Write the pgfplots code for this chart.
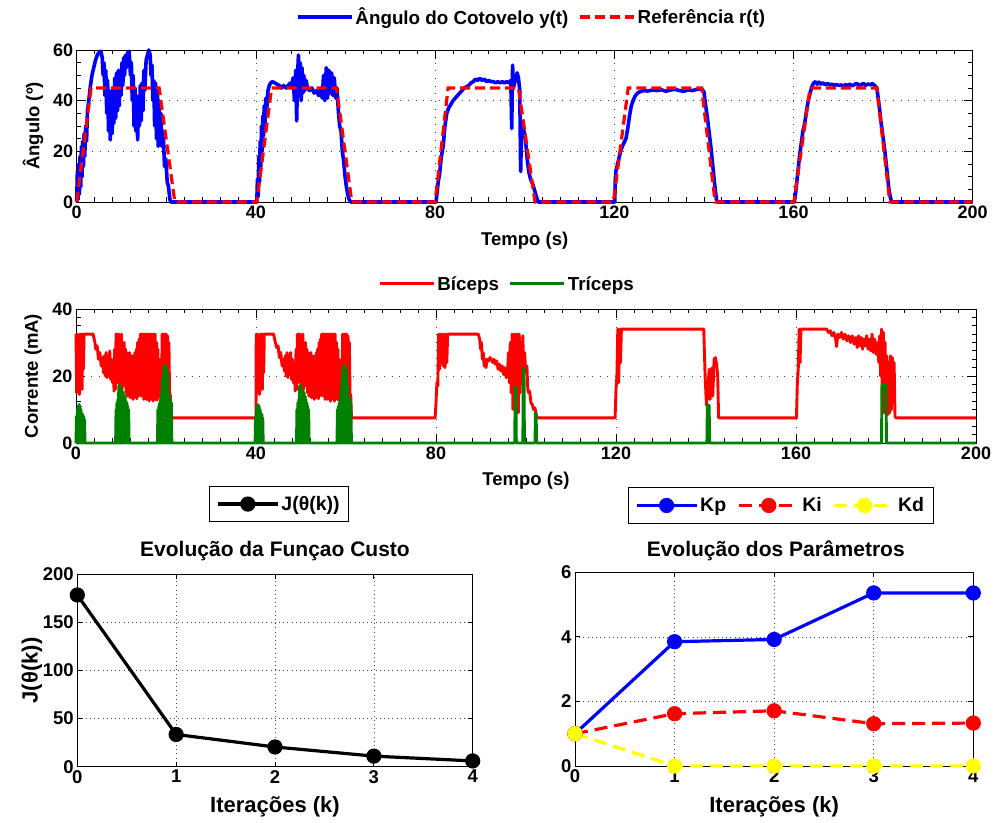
\documentclass[border=0pt]{standalone}
\usepackage{pgfplots}
\pgfplotsset{compat=1.18}
\usepackage{fontspec}
\setmainfont{Liberation Sans}
\definecolor{mblue}{rgb}{0,0,1}
\definecolor{mred}{rgb}{1,0,0}
\definecolor{mgreen}{rgb}{0,0.5,0}
\definecolor{myellow}{rgb}{1,1,0}
\pgfplotsset{
 mat/.style={
  scale only axis, clip=false,
  axis line style={black, line width=0.8pt},
  tick style={black, line width=0.8pt},
  major tick length=9pt, minor tick length=4.5pt, tick align=inside,
  grid=major,
  major grid style={black!75, line width=0.7pt, dash pattern=on 0.7pt off 7pt},
  /pgf/number format/assume math mode=true,
  tick label style={font=\fontsize{18}{18}\selectfont\bfseries},
  label style={font=\fontsize{18.5}{20}\selectfont\bfseries},
  legend style={font=\fontsize{18.8}{20}\selectfont\bfseries, draw=none, fill=white, anchor=center,
    /tikz/every even column/.append style={column sep=8pt}},
  legend image code/.code={\draw[##1] (0pt,0pt) -- (54pt,0pt);},
 },
 matb/.style={
  mat, major tick length=5pt,
  major grid style={black!75, line width=0.7pt, dash pattern=on 0.7pt off 3.5pt},
  tick label style={font=\fontsize{18.5}{18}\selectfont\bfseries},
  label style={font=\fontsize{22}{24}\selectfont\bfseries},
  title style={font=\fontsize{21}{24}\selectfont\bfseries},
  legend style={font=\fontsize{19.5}{20}\selectfont\bfseries, draw=black, line width=0.8pt,
    inner xsep=7pt, inner ysep=8pt, /tikz/every even column/.append style={column sep=9pt}},
  legend image code/.code={\draw[mark repeat=2,mark phase=2,##1] plot coordinates {(0pt,0pt) (30pt,0pt) (60pt,0pt)};},
  xmin=0, xmax=4, xtick={0,1,2,3,4},
 },
}
\begin{document}
\begin{tikzpicture}[x=1pt,y=1pt]
\useasboundingbox (0pt,0pt) rectangle (995pt,822pt);
% ---------------- top: angle
\begin{axis}[mat, at={(76.7pt,620pt)}, anchor=south west, width=896pt, height=152pt,
  xmin=0, xmax=200, ymin=0, ymax=60, xtick={0,40,80,120,160,200}, ytick={0,20,40,60},
  minor x tick num=9, minor y tick num=3,
  xlabel={Tempo (s)}, ylabel={Ângulo (º)},
  xlabel style={at={(axis description cs:0.5,-0.257)}, anchor=center},
  ylabel style={at={(axis description cs:-0.0488,0.5)}, anchor=center},
  legend columns=2, legend style={at={(0.5076,1.217)}}]
\addplot[mblue, line width=3.6pt, line join=round] coordinates {
(0,0) (0.15,12) (0.3,1) (0.45,15) (0.6,3) (0.75,18) (0.9,6) (1.05,22) (1.2,10) (1.35,24) (1.5,14) (1.65,27) (1.8,18) (2.0,30) (2.2,24) (2.4,36) (2.7,40) (3.0,45) (3.4,50) (3.8,53) (4.2,56) (4.6,58) (5.0,59) (5.4,59.5) (5.7,57) (5.9,50) (6.1,55) (6.3,42) (6.5,52) (6.7,35) (6.9,48) (7.1,28) (7.3,44) (7.5,24.5) (7.7,40) (7.9,27) (8.1,45) (8.3,31) (8.5,49) (8.7,33) (8.9,51) (9.1,36) (9.3,52) (9.5,38) (9.7,51) (9.9,42) (10.1,55) (10.3,46) (10.5,57) (10.7,50) (10.9,58) (11.1,53) (11.4,59) (11.6,59.5) (11.8,57) (12.0,50) (12.2,55) (12.4,40) (12.6,50) (12.8,30) (13.0,45) (13.2,28) (13.4,42) (13.6,24.5) (13.8,38) (14.0,30) (14.2,46) (14.4,32) (14.6,47) (14.8,36) (15.0,52) (15.2,44) (15.5,56) (15.8,58) (16.1,60) (16.4,58) (16.6,50) (16.8,54) (17.0,40) (17.2,48) (17.4,30) (17.6,47) (17.8,25) (18.0,45) (18.2,22) (18.4,40) (18.6,24) (18.8,35) (19.0,22) (19.3,28) (19.6,14) (19.9,17) (20.2,8) (20.5,6) (20.8,1) (21.0,0) (40.0,0)
(40.2,0) (40.35,9) (40.5,2) (40.65,18) (40.8,8) (40.95,24) (41.1,14) (41.25,30) (41.4,20) (41.55,34) (41.7,26) (41.85,38) (42.0,30) (42.2,41) (42.4,36) (42.7,44) (43.0,46) (43.3,47) (43.7,47.5) (44.2,47) (44.7,46.5) (45.2,46) (45.7,45) (46.2,46) (46.7,45) (47.2,46) (47.7,47) (48.0,45) (48.3,49) (48.6,40) (48.9,52) (49.1,32) (49.3,50) (49.5,58) (49.7,42) (49.9,55) (50.1,40) (50.3,53) (50.5,43) (50.7,50) (50.9,44) (51.2,48) (51.5,45) (52.0,44) (52.5,45) (53.0,43) (53.5,44) (54.0,42) (54.5,45) (54.8,41) (55.1,50) (55.4,40) (55.7,53) (56.0,41) (56.3,52) (56.6,43) (56.9,51) (57.2,42) (57.5,49) (57.8,41) (58.1,45) (58.4,36) (58.7,30) (59.0,28) (59.3,20) (59.6,16) (59.9,10) (60.2,6) (60.5,3) (60.8,1) (61.2,0) (80.0,0)
(80.2,0) (80.4,3) (80.7,8) (81.0,11) (81.4,18) (81.8,22) (82.2,30) (82.6,35) (83.0,37) (83.5,38.5) (84.0,40) (84.5,41) (85.0,42) (85.5,43) (86.0,44) (86.5,45) (87.0,45.5) (87.5,46) (88.0,47) (88.5,47.5) (89.0,48.5) (89.5,48) (90.0,48.8) (90.5,48) (91.0,48.5) (91.5,47.5) (92.0,48) (92.5,47.5) (93.0,47.5) (93.5,47) (94.0,47.5) (94.5,47) (95.0,47.5) (95.5,47) (96.0,47.5) (96.5,47) (96.9,48) (97.1,29) (97.3,54) (97.5,45) (97.7,47) (98.0,48) (98.3,51) (98.6,49) (98.9,44) (99.1,12) (99.3,30) (99.7,29) (100.1,26) (100.5,18) (100.9,12) (101.3,9) (101.8,7) (102.3,4) (102.8,1) (103.0,0) (120.0,0)
(120.1,0) (120.2,8) (120.35,12) (120.6,14) (121.0,17) (121.4,20) (121.8,22) (122.2,23.5) (122.6,25) (123.0,29) (123.4,34) (123.8,38) (124.2,40) (124.7,42) (125.2,43) (125.7,43.5) (126.5,44) (127.5,43.8) (128.5,44.2) (129.5,44) (130.5,44.3) (131.5,43.7) (132.5,44.2) (133.5,44.5) (134.5,44) (135.5,43.7) (136.5,44.2) (137.5,44) (138.5,44.5) (139.5,44.6) (140.0,43.5) (140.4,38) (140.8,33) (141.2,27) (141.6,21) (142.0,14) (142.4,7) (142.8,1) (143.0,0) (160.0,0)
(160.2,0) (160.5,4) (160.8,9) (161.1,14) (161.4,19) (161.8,24) (162.1,28) (162.5,31) (162.9,36) (163.3,40) (163.7,43) (164.1,45.5) (164.5,47) (164.9,47.5) (165.3,46.5) (165.7,47.3) (166.1,46.5) (166.6,47) (167.1,46.3) (167.6,46.8) (168.1,46.2) (168.6,46.5) (169.1,46) (169.6,46.4) (170.1,46) (170.6,46.2) (171.1,45.8) (171.6,46.3) (172.1,46) (172.6,46.5) (173.1,45.8) (173.6,46.4) (174.1,46.8) (174.6,46) (175.1,46.3) (175.6,46.8) (176.1,46) (176.6,46.6) (177.1,46.3) (177.6,46.7) (178.1,46) (178.6,45) (178.9,41) (179.2,37) (179.5,32) (179.8,28) (180.1,24) (180.4,20) (180.7,15) (181.0,10) (181.3,5) (181.6,2) (181.9,0) (200,0)
};
\addplot[mred, line width=3.2pt, dash pattern=on 10pt off 5pt] coordinates {
(0,0) (3.2,45) (18.4,45) (21.9,0) (40.2,0) (43.5,45) (58.0,45) (61.4,0) (80.0,0) (82.9,45) (98.6,45) (102.3,0) (119.8,0) (123.1,45) (139.5,45) (142.5,0) (160.1,0) (163.7,45) (178.6,45) (181.5,0) (200,0)
};
\legend{Ângulo do Cotovelo y(t), Referência r(t)}
\end{axis}
% ---------------- middle: current
\begin{axis}[mat, at={(76.0pt,379pt)}, anchor=south west, width=900pt, height=134pt,
  xmin=0, xmax=200, ymin=0, ymax=40, xtick={0,40,80,120,160,200}, ytick={0,20,40},
  minor x tick num=9, minor y tick num=7,
  xlabel={Tempo (s)}, ylabel={Corrente (mA)},
  xlabel style={at={(axis description cs:0.5,-0.284)}, anchor=center},
  ylabel style={at={(axis description cs:-0.0478,0.5)}, anchor=center},
  legend columns=2, legend style={at={(0.479,1.187)}}]
\addplot[mred, line width=2.9pt, line join=round] coordinates {
(0,32.5) (0.15,15) (0.3,32.5) (0.45,18) (0.6,32) (0.75,14.5) (0.9,32.5) (1.05,20) (1.2,32.5) (1.35,16) (1.5,32.5) (1.65,22) (1.8,32.5) (1.9,32.5) (3.8,32.5) (4.2,30) (4.4,28) (4.7,29) (5.0,25) (5.3,27) (5.6,23) (5.9,25.5) (6.1,21) (6.3,26) (6.5,20) (6.7,27) (6.9,19.5) (7.1,26) (7.3,20) (7.5,27.5) (7.7,19) (7.9,25) (8.1,18) (8.3,24) (8.45,15.5) (8.6,28) (8.75,16) (8.9,32.5) (9.05,18) (9.2,32.5) (9.35,20) (9.5,32.5) (9.65,17) (9.8,31) (9.95,19) (10.1,32.5) (10.25,16) (10.4,29) (10.55,18) (10.7,30) (10.85,17) (11.0,28) (11.15,15) (11.3,27) (11.45,14) (11.6,26) (11.75,14) (11.9,27) (12.05,13.5) (12.2,25) (12.35,14) (12.5,26) (12.65,13) (12.8,24) (12.95,13.5) (13.1,27) (13.25,14) (13.4,28) (13.55,13.2) (13.7,30) (13.85,14) (14.0,31) (14.15,15) (14.3,32.5) (14.45,14) (14.6,32.5) (14.75,16) (14.9,32.5) (15.05,13) (15.2,32.5) (15.35,15) (15.5,32.5) (15.65,13) (15.8,32.5) (15.95,14) (16.1,32.5) (16.25,12.5) (16.4,32.5) (16.55,13.5) (16.7,32.5) (16.85,13) (17.0,32.5) (17.15,12.5) (17.3,32.5) (17.45,14) (17.6,32.5) (17.75,13) (17.9,30) (18.05,12.8) (18.2,28) (18.35,13.5) (18.5,25) (18.65,14) (18.8,20) (19.0,15) (19.15,32.5) (19.3,17) (19.45,32.5) (19.6,16) (19.75,32.5) (19.9,15) (20.05,32.5) (20.2,14) (20.35,32) (20.5,14.5) (20.65,30) (20.8,14) (20.95,14.5) (21.1,7.5) (40.0,7.5)
(40.05,32.5) (40.2,15) (40.35,32.5) (40.5,17) (40.65,32) (40.8,14.5) (40.95,32.5) (41.1,19) (41.25,32.5) (41.4,16) (41.55,32.5) (41.7,21) (41.85,32.5) (42.0,32.5) (43.9,32.5) (44.3,30) (44.6,28.5) (44.9,29) (45.2,25.5) (45.5,27) (45.8,23) (46.1,25) (46.3,21.5) (46.5,26) (46.7,20) (46.9,27) (47.1,19.5) (47.3,26) (47.5,20.5) (47.7,27) (47.9,19) (48.1,25) (48.3,18) (48.5,24) (48.7,15.5) (48.9,28) (49.05,16) (49.2,32.5) (49.35,18) (49.5,32.5) (49.65,20) (49.8,32.5) (49.95,17) (50.1,31) (50.25,19) (50.4,32.5) (50.55,16) (50.7,29) (50.85,18) (51.0,30) (51.15,17) (51.3,28) (51.45,15) (51.6,27) (51.75,14) (51.9,26) (52.05,14) (52.2,27) (52.35,13.5) (52.5,25) (52.65,14) (52.8,26) (52.95,13) (53.1,24) (53.25,13.5) (53.4,27) (53.55,14) (53.7,28) (53.85,13.2) (54.0,30) (54.15,14) (54.3,31) (54.45,15) (54.6,32.5) (54.75,14) (54.9,32.5) (55.05,16) (55.2,32.5) (55.35,13) (55.5,32.5) (55.65,15) (55.8,32.5) (55.95,13) (56.1,32.5) (56.25,14) (56.4,32.5) (56.55,12.5) (56.7,32.5) (56.85,13.5) (57.0,32.5) (57.15,13) (57.3,32.5) (57.45,12.5) (57.6,32.5) (57.75,14) (57.9,30) (58.05,13) (58.2,28) (58.35,12.8) (58.5,25) (58.65,13.5) (58.8,21) (58.95,14) (59.1,15) (59.25,32.5) (59.4,17) (59.55,32.5) (59.7,16) (59.85,32.5) (60.0,15) (60.15,32.5) (60.3,14) (60.45,32) (60.6,14.5) (60.75,30) (60.9,14) (61.05,14.5) (61.2,7.5) (79.8,7.5)
(80.0,12) (80.2,18) (80.4,17) (80.6,32.5) (80.8,22) (81.0,32.5) (81.2,24) (81.4,32.5) (81.6,23) (81.8,32.5) (82.0,22.5) (82.2,32.5) (82.4,24) (82.6,32.5) (89.4,32.5) (89.7,31) (89.9,28) (90.1,30) (90.3,25) (90.5,27) (90.7,23) (90.9,25) (91.1,22.5) (91.4,25) (91.7,24.5) (92.0,25.5) (92.3,25) (92.6,24) (92.9,25) (93.2,23.5) (93.5,24.5) (93.8,22) (94.1,23.5) (94.4,21.5) (94.7,23) (95.0,20.5) (95.3,22.5) (95.6,19.5) (95.9,21) (96.1,27) (96.3,18) (96.5,30) (96.7,15) (96.9,32.5) (97.1,10) (97.3,32.5) (97.5,14) (97.7,32.5) (97.9,12) (98.1,32.5) (98.3,9) (98.5,32.5) (98.7,15) (98.9,30) (99.1,18) (99.3,32) (99.5,20) (99.7,27) (99.9,22) (100.2,23) (100.4,16) (100.6,15) (100.8,15.5) (101.1,12) (101.4,11.5) (101.7,10) (102.0,10.5) (102.3,8) (102.6,7.5) (119.8,7.5)
(120.0,16) (120.2,20) (120.4,34) (120.6,18) (120.8,34) (121.0,24) (121.2,34) (139.5,34) (139.8,20) (140.1,11.3) (140.4,16) (140.7,22) (140.9,13) (141.1,20) (141.3,22.4) (141.5,14) (141.8,25) (142.1,25.5) (142.4,23) (142.6,20) (142.8,7.5) (160.1,7.5)
(160.3,18) (160.5,22) (160.7,34) (160.9,24) (161.1,34) (166.8,34) (167.2,33) (167.6,33.5) (168.0,32) (168.4,33) (168.8,31) (169.0,28.8) (169.3,32.5) (169.7,31.5) (170.1,33) (170.5,31) (170.9,32.5) (171.3,30.5) (171.7,32) (172.1,30) (172.5,32) (172.9,29.5) (173.3,31.5) (173.6,28.5) (173.9,32) (174.2,29) (174.5,31.5) (174.8,28) (175.1,31) (175.4,29) (175.7,32) (176.0,28) (176.3,31) (176.6,27.5) (176.9,32.5) (177.2,27) (177.5,31) (177.8,26.5) (178.1,30) (178.4,24) (178.6,32) (178.8,20) (179.0,34) (179.2,12) (179.4,33) (179.6,9) (179.8,30) (180.0,10) (180.2,26) (180.4,8.5) (180.6,24) (180.8,9) (181.0,26) (181.2,10) (181.4,25.5) (181.6,12) (181.8,24) (182.0,8) (182.2,7.5) (200,7.5)
};
\addplot[mgreen, line width=2.9pt, line join=round] coordinates {
(0,0) (0.1,8) (0.2,0) (0.3,10) (0.4,0) (0.5,11) (0.6,0) (0.7,11.5) (0.8,0) (0.9,11) (1.0,0) (1.1,10) (1.2,0) (1.3,9) (1.4,0) (1.5,8.5) (1.6,0) (1.7,8) (1.8,0) (1.9,7) (2.0,0)
(8.8,0) (8.9,10) (9.0,0) (9.1,12) (9.2,0) (9.3,13) (9.4,0) (9.5,17) (9.6,0) (9.7,17.3) (9.8,0) (9.9,16.5) (10.0,0) (10.1,15) (10.2,0) (10.3,15.5) (10.4,0) (10.5,15.2) (10.6,0) (10.7,14.5) (10.8,0) (10.9,14) (11.0,0) (11.1,12.5) (11.2,0) (11.3,12) (11.4,0) (11.5,11) (11.6,0) (11.7,10) (11.8,0)
(18.1,0) (18.2,10) (18.3,0) (18.4,11) (18.5,0) (18.6,12) (18.7,0) (18.8,13) (18.9,0) (19.0,15) (19.1,0) (19.2,19) (19.3,0) (19.4,21) (19.5,0) (19.6,23) (19.7,0) (19.8,22.8) (19.9,0) (20.0,23) (20.1,0) (20.2,22) (20.3,0) (20.4,20) (20.5,0) (20.6,15) (20.7,0) (20.8,14) (20.9,0) (21.0,13) (21.1,0) (21.2,12) (21.3,0) (39.8,0)
(39.9,8) (40.0,0) (40.1,10) (40.2,0) (40.3,11) (40.4,0) (40.5,11.5) (40.6,0) (40.7,11) (40.8,0) (40.9,10) (41.0,0) (41.1,9) (41.2,0) (41.3,8.5) (41.4,0) (41.5,7.5) (41.6,0)
(49.0,0) (49.1,10) (49.2,0) (49.3,12) (49.4,0) (49.5,13) (49.6,0) (49.7,17) (49.8,0) (49.9,17.3) (50.0,0) (50.1,16) (50.2,0) (50.3,14) (50.4,0) (50.5,15.5) (50.6,0) (50.7,15) (50.8,0) (50.9,14) (51.0,0) (51.1,13) (51.2,0) (51.3,12) (51.4,0) (51.5,11) (51.6,0) (51.7,10) (51.8,0)
(58.0,0) (58.1,10) (58.2,0) (58.3,11) (58.4,0) (58.5,12) (58.6,0) (58.7,13) (58.8,0) (58.9,16) (59.0,0) (59.1,19) (59.2,0) (59.3,22) (59.4,0) (59.5,23) (59.6,0) (59.7,23) (59.8,0) (59.9,22.5) (60.0,0) (60.1,21) (60.2,0) (60.3,17) (60.4,0) (60.5,14) (60.6,0) (60.7,13.5) (60.8,0) (60.9,13) (61.0,0) (61.1,12) (61.2,0)
(97.5,0) (97.6,16.8) (97.75,16.8) (97.85,0) (99.3,0) (99.4,22.4) (99.55,22.4) (99.65,0) (102.0,0) (102.1,8.9) (102.25,8.9) (102.35,0)
(140.2,0) (140.3,11.3) (140.7,11.3) (140.8,0) (179.0,0) (179.1,17.3) (179.4,16) (179.7,17.3) (180.0,17) (180.1,0) (200,0)
};
\legend{Bíceps, Tríceps}
\end{axis}
% ---------------- bottom left: cost
\begin{axis}[matb, at={(77.3pt,55.3pt)}, anchor=south west, width=395.4pt, height=192.4pt,
  ymin=0, ymax=200, ytick={0,50,100,150,200},
  title={Evolução da Funçao Custo},
  title style={at={(axis description cs:0.5,1.087)}, anchor=center},
  xlabel={Iterações (k)}, ylabel={J(θ(k))},
  xlabel style={at={(axis description cs:0.5,-0.21)}, anchor=center},
  ylabel style={at={(axis description cs:-0.1146,0.5)}, anchor=center},
  legend style={at={(0.51,1.365)}}]
\addplot[black, line width=3.2pt, mark=*, mark size=6pt, mark options={fill=black}] coordinates {
(0,178.5) (1,33.5) (2,20.5) (3,11) (4,6)
};
\legend{J(θ(k))}
\end{axis}
% ---------------- bottom right: parameters
\begin{axis}[matb, at={(575pt,56pt)}, anchor=south west, width=398.3pt, height=193.7pt,
  ymin=0, ymax=6, ytick={0,2,4,6},
  title={Evolução dos Parâmetros},
  title style={at={(axis description cs:0.504,1.082)}, anchor=center},
  xlabel={Iterações (k)},
  xlabel style={at={(axis description cs:0.5,-0.213)}, anchor=center},
  legend columns=3, legend style={at={(0.516,1.345)}}]
\addplot[mblue, line width=3.2pt, mark=*, mark size=6pt, mark options={fill=mblue}] coordinates {
(0,1) (1,3.85) (2,3.92) (3,5.36) (4,5.36)
};
\addplot[mred, line width=3.2pt, dash pattern=on 13pt off 7pt, mark=*, mark size=6pt, mark options={solid, fill=mred}] coordinates {
(0,1) (1,1.62) (2,1.71) (3,1.31) (4,1.33)
};
\addplot[myellow, line width=3.2pt, dash pattern=on 13pt off 7pt, mark=*, mark size=6pt, mark options={solid, fill=myellow}] coordinates {
(0,1) (1,0) (2,0) (3,0) (4,0)
};
\legend{Kp, Ki, Kd}
\end{axis}
\end{tikzpicture}
\end{document}
